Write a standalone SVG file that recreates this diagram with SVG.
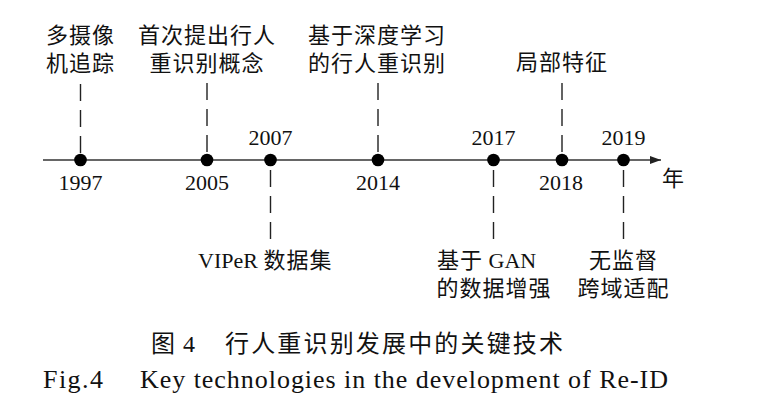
<svg xmlns="http://www.w3.org/2000/svg" width="763" height="405" viewBox="0 0 763 405">
<style>
.cjk{font-family:"Noto Sans CJK SC","Liberation Serif",sans-serif;font-size:22px;letter-spacing:1px;fill:#111;text-anchor:middle}
.yr{font-family:"Liberation Serif",serif;font-size:22px;fill:#111;text-anchor:middle}
.mix{font-family:"Liberation Serif","Noto Sans CJK SC",serif;font-size:22px;fill:#111}
.dash{stroke:#222;stroke-width:1.4;stroke-dasharray:17 9;fill:none}
.dot{fill:#000}
.cap{fill:#111}
</style>
<defs>
<marker id="arr" markerWidth="12" markerHeight="10" refX="11" refY="4.5" orient="auto" markerUnits="userSpaceOnUse">
<path d="M0,0.5 L11,4.5 L0,8.5 Z" fill="#222"/>
</marker>
</defs>
<g id="connectors">
<line x1="43" y1="160" x2="661" y2="160" stroke="#333" stroke-width="1.4" marker-end="url(#arr)"/>
<line class="dash" x1="80.5" y1="84" x2="80.5" y2="160"/>
<line class="dash" x1="207" y1="83" x2="207" y2="160"/>
<line class="dash" x1="378" y1="83" x2="378" y2="160"/>
<line class="dash" x1="562" y1="83" x2="562" y2="160"/>
<line class="dash" x1="270.5" y1="170" x2="270.5" y2="242"/>
<line class="dash" x1="493.5" y1="170" x2="493.5" y2="242"/>
<line class="dash" x1="623.5" y1="170" x2="623.5" y2="242"/>
</g>
<g id="n1997">
<circle class="dot" cx="80.5" cy="160" r="6.3"/>
<text class="yr" x="80.5" y="190">1997</text>
<text class="cjk" x="80.5" y="43">多摄像</text>
<text class="cjk" x="80.5" y="71">机追踪</text>
</g>
<g id="n2005">
<circle class="dot" cx="207" cy="160" r="6.3"/>
<text class="yr" x="207" y="190">2005</text>
<text class="cjk" x="207" y="43">首次提出行人</text>
<text class="cjk" x="207" y="71">重识别概念</text>
</g>
<g id="n2007">
<circle class="dot" cx="270.5" cy="160" r="6.3"/>
<text class="yr" x="270.5" y="145">2007</text>
<text class="mix" x="198" y="268">VIPeR <tspan font-family="Noto Sans CJK SC, sans-serif" letter-spacing="1">数据集</tspan></text>
</g>
<g id="n2014">
<circle class="dot" cx="378" cy="160" r="6.3"/>
<text class="yr" x="378" y="190">2014</text>
<text class="cjk" x="377" y="43">基于深度学习</text>
<text class="cjk" x="377" y="71">的行人重识别</text>
</g>
<g id="n2017">
<circle class="dot" cx="493.5" cy="160" r="6.3"/>
<text class="yr" x="493.5" y="145">2017</text>
<text class="mix" x="437" y="268"><tspan font-family="Noto Sans CJK SC, sans-serif" letter-spacing="1">基于</tspan> GAN</text>
<text class="cjk" x="494" y="296">的数据增强</text>
</g>
<g id="n2018">
<circle class="dot" cx="562" cy="160" r="6.3"/>
<text class="yr" x="561" y="190">2018</text>
<text class="cjk" x="562" y="70">局部特征</text>
</g>
<g id="n2019">
<circle class="dot" cx="623.5" cy="160" r="6.3"/>
<text class="yr" x="623.5" y="145">2019</text>
<text class="cjk" x="623.5" y="268">无监督</text>
<text class="cjk" x="623.5" y="296">跨域适配</text>
</g>
<g id="axis-label">
<text class="cjk" x="662" y="186" style="text-anchor:start">年</text>
</g>
<g id="caption">
<text class="cap" x="151" y="352" font-family="Noto Sans CJK SC, sans-serif" font-size="24">图</text>
<text class="cap" x="183" y="352" font-family="Liberation Serif, serif" font-size="24">4</text>
<text class="cap" x="225" y="352" font-family="Noto Sans CJK SC, sans-serif" font-size="24" textLength="338" lengthAdjust="spacing">行人重识别发展中的关键技术</text>
<text class="cap" x="43" y="388" font-family="Liberation Serif, serif" font-size="26" textLength="60" lengthAdjust="spacing">Fig.4</text>
<text class="cap" x="140" y="388" font-family="Liberation Serif, serif" font-size="26" textLength="528" lengthAdjust="spacing">Key technologies in the development of Re-ID</text>
</g>
</svg>
